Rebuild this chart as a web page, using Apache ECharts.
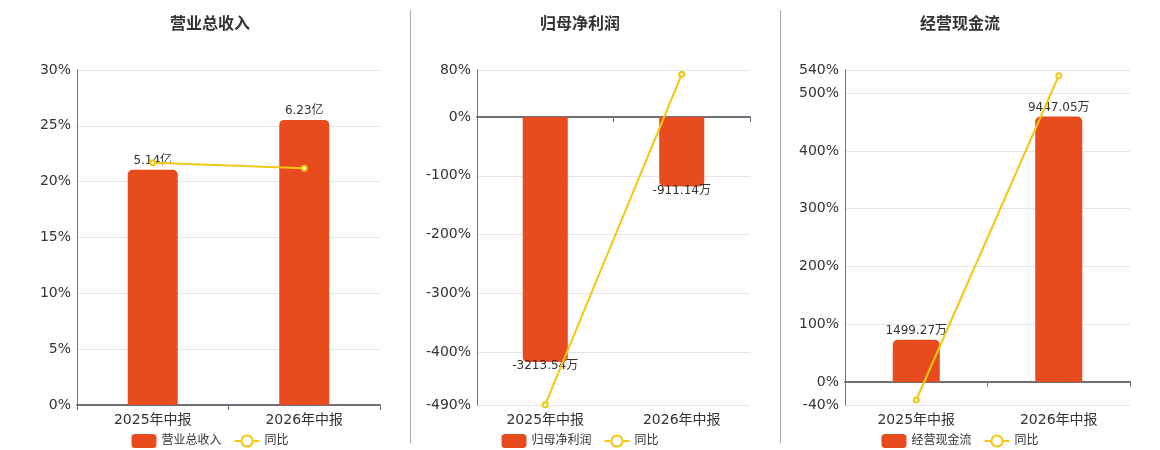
<!DOCTYPE html>
<html>
<head>
<meta charset="utf-8">
<script src="https://cdn.jsdelivr.net/npm/echarts@6/dist/echarts.min.js"></script>
<style>
  html, body { margin: 0; padding: 0; background: #fff; }
  #wrap { position: relative; width: 1160px; height: 450px; }
  .panel { position: absolute; top: 0; height: 450px; }
  .sep { position: absolute; top: 10px; height: 433px; width: 1px; background: #aaa; }
</style>
</head>
<body>
<div id="wrap">
  <div class="panel" id="c0" style="left:0;width:420px"></div>
  <div class="panel" id="c1" style="left:400px;width:360px"></div>
  <div class="panel" id="c2" style="left:780px;width:360px"></div>
  <div class="sep" style="left:410px"></div>
  <div class="sep" style="left:780px"></div>
</div>
<script>
var categories = ['2025年中报', '2026年中报'];

// 营业总收入 (亿) and 同比 (%)
var revenue = [5.14, 6.23];
var revenueYoy = [21.7, 21.2];

// 归母净利润 (万) and 同比 (%)
var netProfit = [-3213.54, -911.14];
var netProfitYoy = [-489.5, 72.7];

// 经营现金流 (万) and 同比 (%)
var cashFlow = [1499.27, 9447.05];
var cashFlowYoy = [-31.3, 530.0];

// percent axis extents
var pctMin = [0, -490, -40];
var pctMax = [30, 80, 540];

var titles = ['营业总收入', '归母净利润', '经营现金流'];
var units = ['亿', '万', '万'];

var BAR_COLOR = '#E84C1E';
var LINE_COLOR = '#F2C811';
var AXIS_COLOR = '#6E7079';
var FONT = "'DejaVu Sans', 'Noto Sans CJK SC', sans-serif";

function buildOption(i, bars, yoy, grid) {
  // hidden bar axis scaled so its zero lines up with the percent axis zero
  var absMax = Math.max.apply(null, bars.map(Math.abs));
  var k = absMax * 1.175 / Math.max(Math.abs(pctMin[i]), Math.abs(pctMax[i]));
  return {
    animation: false,
    textStyle: { fontFamily: FONT },
    title: {
      text: titles[i],
      left: 'center',
      top: 12,
      textStyle: { fontSize: 16, fontWeight: 'bold', color: '#333', fontFamily: FONT },
    },
    legend: {
      left: 'center',
      top: 429,
      itemWidth: 25,
      itemHeight: 14,
      itemGap: 12,
      textStyle: { fontSize: 12, color: '#333', fontFamily: FONT },
      data: [titles[i], '同比'],
    },
    grid: grid,
    xAxis: [
      {
        type: 'category',
        data: categories,
        axisLine: { show: false, onZero: false },
        axisTick: { show: false },
        axisLabel: { fontSize: 14, color: '#333', margin: 8, fontFamily: FONT },
      },
      {
        type: 'category',
        data: categories,
        position: 'bottom',
        axisLine: { show: true, onZero: true, onZeroAxisIndex: 0, lineStyle: { color: AXIS_COLOR, width: 2 } },
        axisTick: { show: true, length: 5, lineStyle: { color: AXIS_COLOR } },
        axisLabel: { show: false },
      },
    ],
    yAxis: [
      {
        type: 'value',
        min: pctMin[i],
        max: pctMax[i],
        axisLine: { show: true, lineStyle: { color: AXIS_COLOR } },
        axisTick: { show: false },
        axisLabel: { formatter: '{value}%', fontSize: 14, color: '#333', margin: 6, fontFamily: FONT },
        splitLine: { lineStyle: { color: '#E0E6F1' } },
      },
      {
        type: 'value',
        show: false,
        min: pctMin[i] * k,
        max: pctMax[i] * k,
        splitLine: { show: false },
      },
    ],
    series: [
      {
        name: titles[i],
        type: 'bar',
        xAxisIndex: 0,
        yAxisIndex: 1,
        barWidth: '33%',
        itemStyle: { color: BAR_COLOR },
        data: bars.map(function (v) {
          return {
            value: v,
            itemStyle: { borderRadius: v >= 0 ? [5, 5, 0, 0] : [0, 0, 5, 5] },
            label: v >= 0 ? { position: 'top', distance: 3 } : { position: 'bottom', distance: -2 },
          };
        }),
        label: {
          show: true,
          fontSize: 12,
          color: '#333',
          fontFamily: FONT,
          formatter: function (p) { return p.value.toFixed(2) + units[i]; },
        },
        z: 2,
      },
      {
        name: '同比',
        type: 'line',
        xAxisIndex: 0,
        yAxisIndex: 0,
        data: yoy,
        symbol: 'emptyCircle',
        symbolSize: 5,
        lineStyle: { color: LINE_COLOR, width: 2 },
        itemStyle: { color: LINE_COLOR, borderWidth: 2 },
        z: 5,
      },
    ],
  };
}

var grids = [
  { left: 77, right: 40, top: 70, bottom: 45 },
  { left: 77, right: 10, top: 70, bottom: 45 },
  { left: 65, right: 10, top: 70, bottom: 45 },
];
var barSets = [revenue, netProfit, cashFlow];
var yoySets = [revenueYoy, netProfitYoy, cashFlowYoy];

for (var i = 0; i < 3; i++) {
  var chart = echarts.init(document.getElementById('c' + i));
  chart.setOption(buildOption(i, barSets[i], yoySets[i], grids[i]));
}
</script>
</body>
</html>
